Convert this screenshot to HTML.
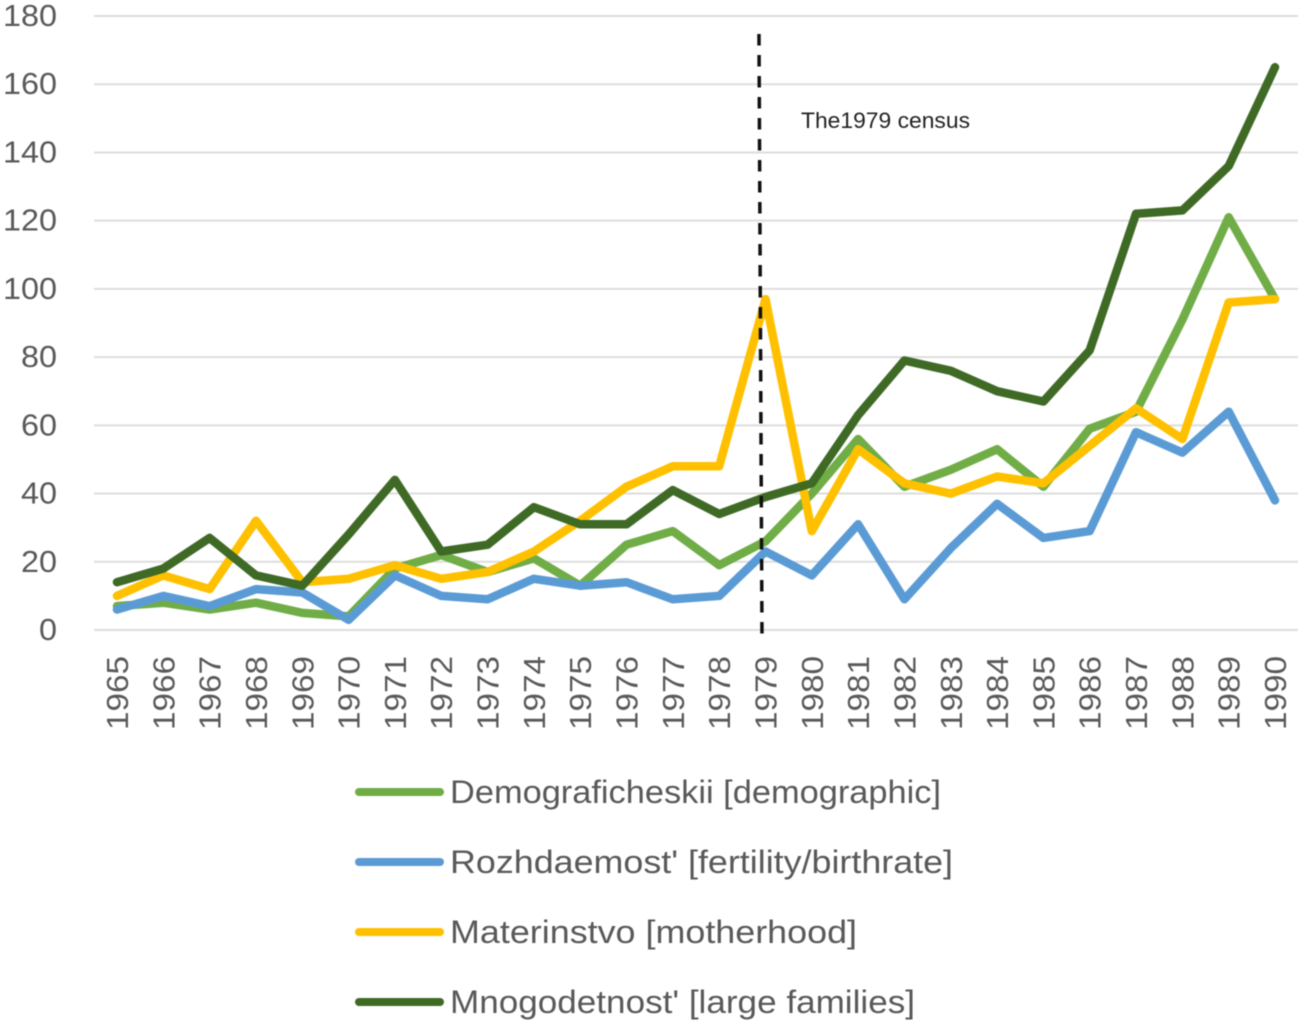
<!DOCTYPE html>
<html lang="en">
<head>
<meta charset="utf-8">
<title>Chart</title>
<style>
html,body{margin:0;padding:0;background:#fff;}
body{width:1304px;height:1025px;overflow:hidden;}
svg{display:block;filter:blur(0.5px);}
text{font-family:"Liberation Sans",sans-serif;fill:#595959;}
</style>
</head>
<body>
<svg id="chart" xmlns="http://www.w3.org/2000/svg" width="1304" height="1025" viewBox="0 0 1304 1025"></svg>
<script>
const categories = [1965,1966,1967,1968,1969,1970,1971,1972,1973,1974,1975,1976,1977,1978,1979,1980,1981,1982,1983,1984,1985,1986,1987,1988,1989,1990];
const yTicks = [0,20,40,60,80,100,120,140,160,180];
const demographic = [7,8,6,8,5,4,18,22,17,21,13,25,29,19,26,40,56,42,47,53,42,59,64,91,121,97];
const fertility = [6,10,7,12,11,3,16,10,9,15,13,14,9,10,23,16,31,9,24,37,27,29,58,52,64,38];
const motherhood = [10,16,12,32,14,15,19,15,17,23,32,42,48,48,97,29,53,43,40,45,43,54,65,56,96,97];
const largeFamilies = [14,18,27,16,13,28,44,23,25,36,31,31,41,34,39,43,63,79,76,70,67,82,122,123,136,165];
const seriesNames = ["Demograficheskii [demographic]","Rozhdaemost' [fertility/birthrate]","Materinstvo [motherhood]","Mnogodetnost' [large families]"];
const censusYear = 1979;
const censusLabel = "The1979 census";

const NS = "http://www.w3.org/2000/svg";
const svg = document.getElementById("chart");
const plot = {left:94, right:1298, top:16, bottom:630, yMax:180, firstX:117, lastX:1275};
function xScale(i){ return plot.firstX + i*(plot.lastX-plot.firstX)/(categories.length-1); }
function yScale(v){ return plot.bottom - v*(plot.bottom-plot.top)/plot.yMax; }
function make(tag, attrs, text){
  const el = document.createElementNS(NS, tag);
  for (const k in attrs) el.setAttribute(k, attrs[k]);
  if (text !== undefined) el.textContent = text;
  svg.appendChild(el);
  return el;
}

yTicks.forEach(function(t){
  const g = make("line",{x1:plot.left,x2:plot.right,y1:yScale(t),y2:yScale(t),stroke:"#dedede","stroke-width":2});
  
  
  const label = String(t);
  const l = make("text",{x:57,y:yScale(t)+10,"text-anchor":"end","font-size":31,"textLength":label.length*18,"lengthAdjust":"spacingAndGlyphs"},label);
  
  
});

categories.forEach(function(c,i){
  const x = xScale(i);
  const l = make("text",{x:0,y:0,"text-anchor":"end","font-size":31,"textLength":74,"lengthAdjust":"spacingAndGlyphs",transform:"translate("+(x+11)+",656) rotate(-90)"},String(c));
  
  
});

const series = [
  {values:demographic,color:"#70ad47",key:"demographic"},
  {values:fertility,color:"#5b9bd5",key:"fertility"},
  {values:motherhood,color:"#ffc000",key:"motherhood"},
  {values:largeFamilies,color:"#3f6a25",key:"large-families"}
];
series.forEach(function(s){
  const pts = s.values.map(function(v,i){ return xScale(i).toFixed(1)+","+yScale(v).toFixed(1); }).join(" ");
  const p = make("polyline",{points:pts,fill:"none",stroke:s.color,"stroke-width":8.5,"stroke-linejoin":"round","stroke-linecap":"round"});
  
  
});

const cx = xScale(categories.indexOf(censusYear));
const census = make("line",{x1:cx-6.5,x2:cx-3.5,y1:34,y2:634,stroke:"#111","stroke-width":3.5,"stroke-dasharray":"11.5 9.5"});


const censusText = make("text",{x:801,y:128,"font-size":22.5,"textLength":169,"lengthAdjust":"spacingAndGlyphs",style:"fill:#222"},censusLabel);



const legendTops = [792,862,932,1002];
const legendWidths = [491,503,407,465];
seriesNames.forEach(function(name,i){
  const y = legendTops[i];
  const k = make("line",{x1:359,x2:440,y1:y,y2:y,stroke:series[i].color,"stroke-width":8,"stroke-linecap":"round"});
  
  
  const t = make("text",{x:450,y:y+11,"font-size":32,"textLength":legendWidths[i],"lengthAdjust":"spacingAndGlyphs"},name);
  
  
});
</script>
</body>
</html>
